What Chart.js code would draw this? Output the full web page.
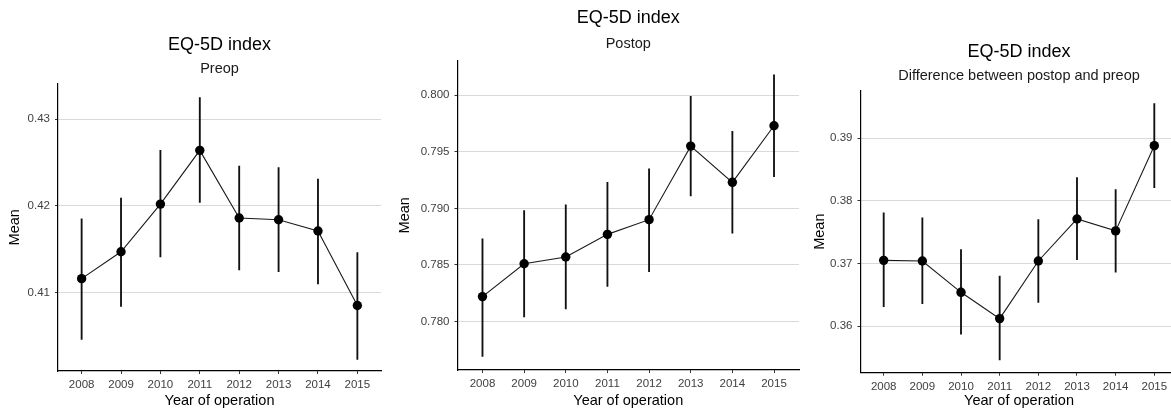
<!DOCTYPE html>
<html>
<head>
<meta charset="utf-8">
<script src="https://cdn.jsdelivr.net/npm/chart.js@4"></script>
<style>
  html, body { margin: 0; padding: 0; background: #fff; overflow: hidden; width: 1171px; height: 413px; position: relative; }
  canvas { position: absolute; top: 0; }
</style>
</head>
<body>
<canvas id="preopChart" width="390" height="413" style="left:0px"></canvas>
<canvas id="postopChart" width="420" height="413" style="left:390px"></canvas>
<canvas id="diffChart" width="390" height="413" style="left:800px"></canvas>
<script>
// --- data ---
const years = ['2008', '2009', '2010', '2011', '2012', '2013', '2014', '2015'];

const preopMean  = [0.4116, 0.4147, 0.4202, 0.4264, 0.4186, 0.4184, 0.4171, 0.4085];
const preopLower = [0.4046, 0.4084, 0.4141, 0.4204, 0.4126, 0.4124, 0.4110, 0.4023];
const preopUpper = [0.4185, 0.4209, 0.4264, 0.4325, 0.4246, 0.4244, 0.4231, 0.4146];

const postopMean  = [0.7822, 0.7851, 0.7857, 0.7877, 0.7890, 0.7955, 0.7923, 0.7973];
const postopLower = [0.7769, 0.7804, 0.7811, 0.7831, 0.7844, 0.7911, 0.7878, 0.7928];
const postopUpper = [0.7873, 0.7898, 0.7903, 0.7923, 0.7935, 0.7999, 0.7968, 0.8018];

const diffMean  = [0.3705, 0.3704, 0.3654, 0.3612, 0.3704, 0.3771, 0.3752, 0.3888];
const diffLower = [0.3631, 0.3636, 0.3587, 0.3546, 0.3638, 0.3706, 0.3686, 0.3821];
const diffUpper = [0.3781, 0.3773, 0.3722, 0.3680, 0.3770, 0.3837, 0.3818, 0.3955];

const preopTicks  = [0.41, 0.42, 0.43];
const postopTicks = [0.780, 0.785, 0.790, 0.795, 0.800];
const diffTicks   = [0.36, 0.37, 0.38, 0.39];

const fontFamily = "'Liberation Sans', Arial, sans-serif";

function drawPanel(p) {
    const points = p.mean.map((v, i) => ({ x: i, y: v }));
    const bars = p.lower.map((v, i) => ({ x: i, y: [v, p.upper[i]] }));

    new Chart(document.getElementById(p.id), {
        type: 'line',
        data: {
            datasets: [
                {
                    type: 'line',
                    data: points,
                    borderColor: '#1a1a1a',
                    borderWidth: 1.1,
                    pointRadius: 4.7,
                    pointBackgroundColor: '#000',
                    pointBorderColor: '#000',
                    pointBorderWidth: 0,
                    tension: 0,
                    order: 0
                },
                {
                    // error bars as thin floating bars
                    type: 'bar',
                    data: bars,
                    backgroundColor: '#111',
                    barThickness: 1.2,
                    grouped: false,
                    order: 1
                }
            ]
        },
        options: {
            responsive: false,
            animation: false,
            devicePixelRatio: 1,
            events: [],
            layout: { padding: { top: 0, left: 0, bottom: 0, right: p.padRight } },
            plugins: {
                legend: { display: false },
                tooltip: { enabled: false },
                title: {
                    display: true,
                    text: 'EQ-5D index',
                    fullSize: false,
                    color: '#000',
                    font: { family: fontFamily, size: 18, weight: 'normal' },
                    padding: { top: p.titleTop, bottom: 0 }
                },
                subtitle: {
                    display: true,
                    text: p.subtitle,
                    fullSize: false,
                    color: '#1a1a1a',
                    font: { family: fontFamily, size: 14.5, weight: 'normal' },
                    padding: { top: p.subGap, bottom: p.subBottom }
                }
            },
            scales: {
                x: {
                    type: 'linear',
                    min: -0.6,
                    max: 7.6,
                    offset: false,
                    afterBuildTicks: s => { s.ticks = years.map((_, i) => ({ value: i })); },
                    afterFit: s => { s.height = p.xHeight; },
                    ticks: {
                        callback: v => years[v],
                        color: '#404040',
                        font: { family: fontFamily, size: 11.5 },
                        padding: 4,
                        maxRotation: 0,
                        autoSkip: false
                    },
                    grid: { offset: false, drawOnChartArea: false, drawTicks: true, tickLength: 3, tickColor: '#333' },
                    border: { display: true, color: '#000', width: 1.2 },
                    title: {
                        display: true,
                        text: 'Year of operation',
                        color: '#000',
                        font: { family: fontFamily, size: 14.5 },
                        padding: { top: 0, bottom: 3 }
                    }
                },
                y: {
                    type: 'linear',
                    min: p.yMin,
                    max: p.yMax,
                    afterBuildTicks: s => { s.ticks = p.ticks.map(v => ({ value: v })); },
                    afterFit: s => { s.width = p.yWidth; },
                    ticks: {
                        callback: v => v.toFixed(p.decimals),
                        color: '#404040',
                        font: { family: fontFamily, size: 11.5 },
                        padding: 5
                    },
                    grid: { color: '#d9d9d9', lineWidth: 1, drawTicks: true, tickLength: 3, tickColor: '#333' },
                    border: { display: true, color: '#000', width: 1.2 },
                    title: {
                        display: true,
                        text: 'Mean',
                        color: '#000',
                        font: { family: fontFamily, size: 14.5 },
                        padding: { top: p.yTitlePad, bottom: 0 }
                    }
                }
            }
        }
    });
}

drawPanel({
    id: 'preopChart', subtitle: 'Preop',
    mean: preopMean, lower: preopLower, upper: preopUpper,
    ticks: preopTicks, decimals: 2, yMin: 0.40095, yMax: 0.4341,
    yWidth: 58, xHeight: 42, padRight: 9,
    titleTop: 34.5, subGap: 3.8, subBottom: 6.3, yTitlePad: 6.3
});

drawPanel({
    id: 'postopChart', subtitle: 'Postop',
    mean: postopMean, lower: postopLower, upper: postopUpper,
    ticks: postopTicks, decimals: 3, yMin: 0.77571, yMax: 0.80306,
    yWidth: 67.5, xHeight: 43, padRight: 11,
    titleTop: 7.5, subGap: 5.8, subBottom: 8.3, yTitlePad: 6.3
});

drawPanel({
    id: 'diffChart', subtitle: 'Difference between postop and preop',
    mean: diffMean, lower: diffLower, upper: diffUpper,
    ticks: diffTicks, decimals: 2, yMin: 0.35257, yMax: 0.39759,
    yWidth: 60.5, xHeight: 40.3, padRight: 12.5,
    titleTop: 41.5, subGap: 3.8, subBottom: 6.3, yTitlePad: 11.3
});
</script>
</body>
</html>
